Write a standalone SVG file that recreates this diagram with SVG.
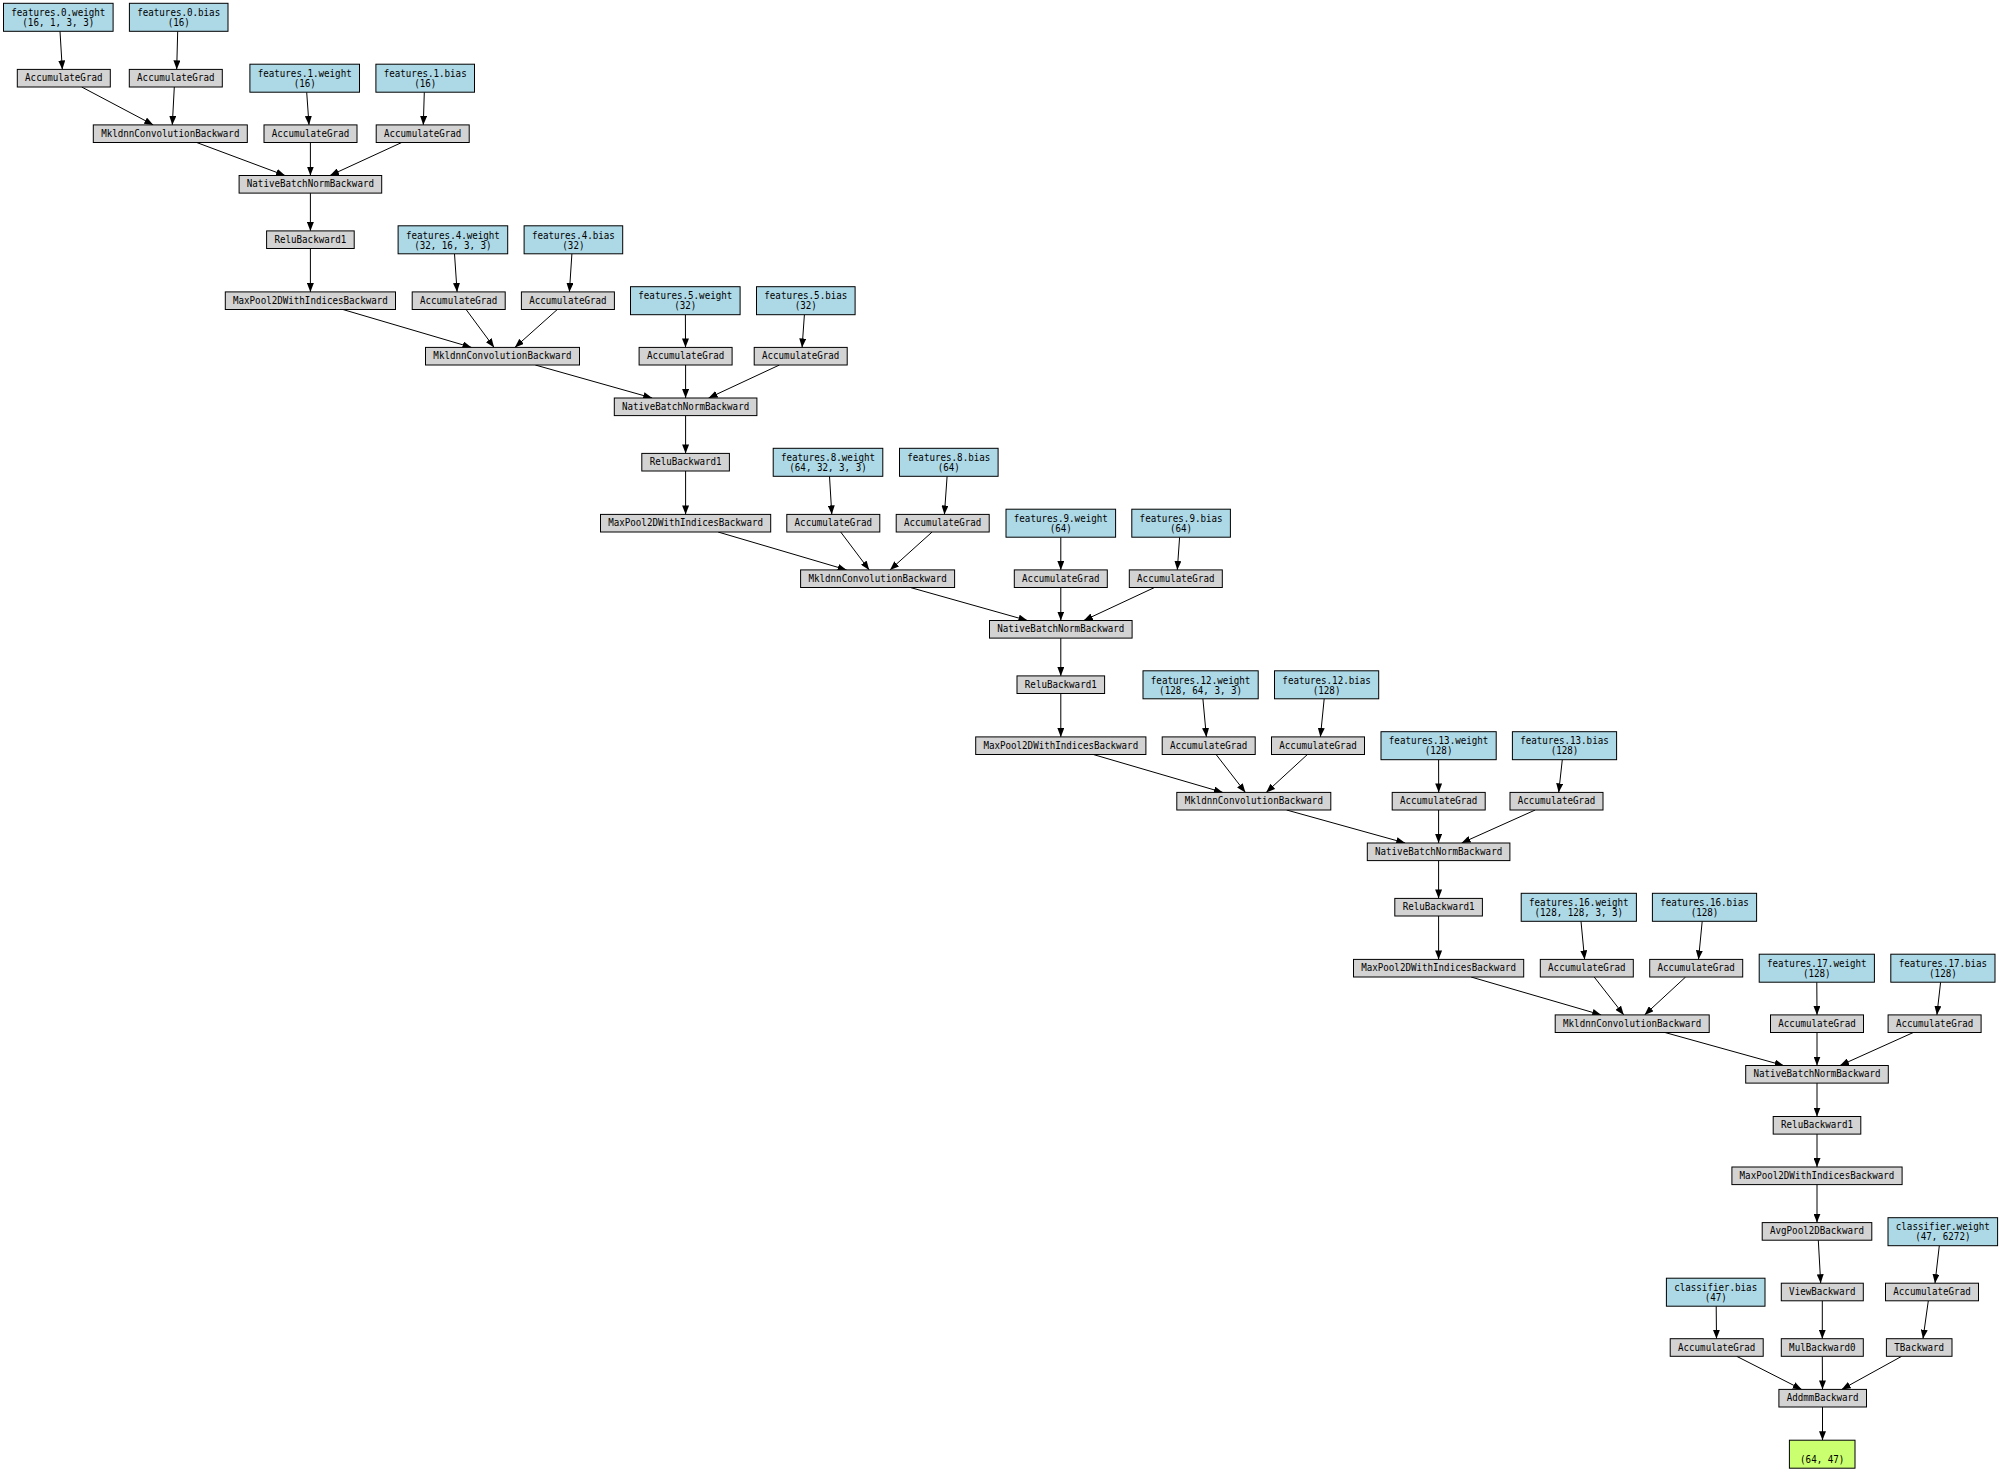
<svg xmlns="http://www.w3.org/2000/svg" width="2001" height="1472" viewBox="0 0 2001 1472">
<style>
rect{stroke:#000;stroke-width:1}
.g{fill:#d3d3d3}
.b{fill:#add8e6}
.o{fill:#caff70}
text{font-family:"DejaVu Sans Mono","Liberation Mono",monospace;font-size:10.5px;text-anchor:middle;fill:#000}
#edges line{stroke:#000;stroke-width:1;marker-end:url(#ah)}
</style>
<defs>
<marker id="ah" markerUnits="userSpaceOnUse" markerWidth="9" markerHeight="7" refX="9" refY="3.5" orient="auto">
<path d="M0,0 L9,3.5 L0,7 z" fill="#000"/>
</marker>
</defs>
<rect x="0" y="0" width="2001" height="1472" fill="#fff" style="stroke:none"/>
<g id="edges">
<line x1="60" y1="31.3" x2="62.3" y2="69.4"/>
<line x1="177.7" y1="31.3" x2="176.7" y2="69.4"/>
<line x1="306.7" y1="92.2" x2="309" y2="124.9"/>
<line x1="424.3" y1="92.2" x2="423.3" y2="124.9"/>
<line x1="81.7" y1="87" x2="153.3" y2="124.9"/>
<line x1="174.3" y1="87" x2="172.3" y2="124.9"/>
<line x1="196.7" y1="142.5" x2="285" y2="175.5"/>
<line x1="310.4" y1="142.5" x2="310.4" y2="175.5"/>
<line x1="401.7" y1="142.5" x2="330" y2="175.5"/>
<line x1="310.4" y1="193.1" x2="310.4" y2="230.9"/>
<line x1="310.4" y1="248.5" x2="310.4" y2="291.9"/>

<line x1="454.5" y1="253.8" x2="457.1" y2="291.9"/>
<line x1="571.9" y1="253.8" x2="569.4" y2="291.9"/>
<line x1="685.4" y1="314.7" x2="685.5" y2="347.4"/>
<line x1="804.4" y1="314.7" x2="802.1" y2="347.4"/>
<line x1="342.9" y1="309.5" x2="471.5" y2="347.4"/>
<line x1="466.1" y1="309.5" x2="494.1" y2="347.4"/>
<line x1="557.3" y1="309.5" x2="514.9" y2="347.4"/>
<line x1="535.3" y1="365" x2="652.2" y2="398"/>
<line x1="685.6" y1="365" x2="685.6" y2="398"/>
<line x1="779.4" y1="365" x2="708.6" y2="398"/>
<line x1="685.6" y1="415.6" x2="685.6" y2="453.4"/>
<line x1="685.6" y1="471" x2="685.6" y2="514.4"/>

<line x1="829.5" y1="476.3" x2="831.8" y2="514.4"/>
<line x1="947.1" y1="476.3" x2="944.4" y2="514.4"/>
<line x1="1060.8" y1="537.2" x2="1060.8" y2="569.9"/>
<line x1="1179.6" y1="537.2" x2="1177.3" y2="569.9"/>
<line x1="718.1" y1="532" x2="846.6" y2="569.9"/>
<line x1="840.7" y1="532" x2="869.2" y2="569.9"/>
<line x1="932.1" y1="532" x2="890" y2="569.9"/>
<line x1="910.4" y1="587.5" x2="1027.4" y2="620.5"/>
<line x1="1060.8" y1="587.5" x2="1060.8" y2="620.5"/>
<line x1="1154.5" y1="587.5" x2="1083.8" y2="620.5"/>
<line x1="1060.8" y1="638.1" x2="1060.8" y2="675.9"/>
<line x1="1060.8" y1="693.5" x2="1060.8" y2="736.9"/>

<line x1="1202.9" y1="698.8" x2="1206.4" y2="736.9"/>
<line x1="1324.2" y1="698.8" x2="1320.4" y2="736.9"/>
<line x1="1438.6" y1="759.7" x2="1438.7" y2="792.4"/>
<line x1="1562.3" y1="759.7" x2="1558.7" y2="792.4"/>
<line x1="1093.3" y1="754.5" x2="1222.8" y2="792.4"/>
<line x1="1216.1" y1="754.5" x2="1245.4" y2="792.4"/>
<line x1="1307.4" y1="754.5" x2="1266.2" y2="792.4"/>
<line x1="1286.6" y1="810" x2="1405.2" y2="843"/>
<line x1="1438.6" y1="810" x2="1438.6" y2="843"/>
<line x1="1535.2" y1="810" x2="1461.6" y2="843"/>
<line x1="1438.6" y1="860.6" x2="1438.6" y2="898.4"/>
<line x1="1438.6" y1="916" x2="1438.6" y2="959.4"/>

<line x1="1581" y1="921.3" x2="1584.6" y2="959.4"/>
<line x1="1702.2" y1="921.3" x2="1698.5" y2="959.4"/>
<line x1="1816.8" y1="982.2" x2="1817" y2="1014.9"/>
<line x1="1940.6" y1="982.2" x2="1936.9" y2="1014.9"/>
<line x1="1471.1" y1="977" x2="1601.2" y2="1014.9"/>
<line x1="1594.2" y1="977" x2="1623.8" y2="1014.9"/>
<line x1="1685.6" y1="977" x2="1644.6" y2="1014.9"/>
<line x1="1665" y1="1032.5" x2="1783.6" y2="1065.5"/>
<line x1="1817" y1="1032.5" x2="1817" y2="1065.5"/>
<line x1="1913.3" y1="1032.5" x2="1840" y2="1065.5"/>
<line x1="1817" y1="1083.1" x2="1817" y2="1116.5"/>
<line x1="1817" y1="1134.1" x2="1817" y2="1167"/>

<line x1="1817" y1="1184.6" x2="1817" y2="1222.6"/>
<line x1="1818.3" y1="1240.2" x2="1820.7" y2="1283.2"/>
<line x1="1939.3" y1="1245.7" x2="1935" y2="1283.2"/>
<line x1="1716.2" y1="1306.2" x2="1716.5" y2="1338.7"/>
<line x1="1822.3" y1="1300.8" x2="1822.3" y2="1338.7"/>
<line x1="1928.3" y1="1300.8" x2="1923" y2="1338.7"/>
<line x1="1736.7" y1="1356.3" x2="1801.7" y2="1389.4"/>
<line x1="1822.3" y1="1356.3" x2="1822.5" y2="1389.4"/>
<line x1="1901.7" y1="1356.3" x2="1841.7" y2="1389.4"/>
<line x1="1822.5" y1="1407" x2="1822.5" y2="1440.2"/>
</g>

<!-- Block 1 -->
<g id="f0w"><rect class="b" x="3.5" y="3.3" width="109.6" height="28"/><text x="58.3" y="16" textLength="94" lengthAdjust="spacingAndGlyphs">features.0.weight</text><text x="58.3" y="26" textLength="71.9" lengthAdjust="spacingAndGlyphs">(16, 1, 3, 3)</text></g>
<g id="f0b"><rect class="b" x="129.4" y="3.3" width="98.6" height="28"/><text x="178.7" y="16" textLength="83" lengthAdjust="spacingAndGlyphs">features.0.bias</text><text x="178.7" y="26" textLength="22.1" lengthAdjust="spacingAndGlyphs">(16)</text></g>
<g id="ag0w"><rect class="g" x="17.3" y="69.4" width="93" height="17.6"/><text x="63.8" y="81.2" textLength="77.4" lengthAdjust="spacingAndGlyphs">AccumulateGrad</text></g>
<g id="ag0b"><rect class="g" x="129.3" y="69.4" width="93" height="17.6"/><text x="175.8" y="81.2" textLength="77.4" lengthAdjust="spacingAndGlyphs">AccumulateGrad</text></g>
<g id="f1w"><rect class="b" x="249.9" y="64.2" width="109.6" height="28"/><text x="304.7" y="76.9" textLength="94" lengthAdjust="spacingAndGlyphs">features.1.weight</text><text x="304.7" y="86.9" textLength="22.1" lengthAdjust="spacingAndGlyphs">(16)</text></g>
<g id="f1b"><rect class="b" x="375.9" y="64.2" width="98.6" height="28"/><text x="425.2" y="76.9" textLength="83" lengthAdjust="spacingAndGlyphs">features.1.bias</text><text x="425.2" y="86.9" textLength="22.1" lengthAdjust="spacingAndGlyphs">(16)</text></g>
<g id="mk1"><rect class="g" x="93.3" y="124.9" width="154" height="17.6"/><text x="170.3" y="136.7" textLength="138.3" lengthAdjust="spacingAndGlyphs">MkldnnConvolutionBackward</text></g>
<g id="ag1w"><rect class="g" x="264" y="124.9" width="93" height="17.6"/><text x="310.5" y="136.7" textLength="77.4" lengthAdjust="spacingAndGlyphs">AccumulateGrad</text></g>
<g id="ag1b"><rect class="g" x="376.2" y="124.9" width="93" height="17.6"/><text x="422.7" y="136.7" textLength="77.4" lengthAdjust="spacingAndGlyphs">AccumulateGrad</text></g>
<g id="nbn1"><rect class="g" x="239.1" y="175.5" width="142.6" height="17.6"/><text x="310.4" y="187.3" textLength="127.2" lengthAdjust="spacingAndGlyphs">NativeBatchNormBackward</text></g>
<g id="relu1"><rect class="g" x="266.6" y="230.9" width="87.6" height="17.6"/><text x="310.4" y="242.7" textLength="71.9" lengthAdjust="spacingAndGlyphs">ReluBackward1</text></g>
<g id="mp1"><rect class="g" x="225.3" y="291.9" width="170.2" height="17.6"/><text x="310.4" y="303.7" textLength="154.8" lengthAdjust="spacingAndGlyphs">MaxPool2DWithIndicesBackward</text></g>

<!-- Block 2 -->
<g id="f4w"><rect class="b" x="398.1" y="225.8" width="109.6" height="28"/><text x="452.9" y="238.5" textLength="94" lengthAdjust="spacingAndGlyphs">features.4.weight</text><text x="452.9" y="248.5" textLength="77.4" lengthAdjust="spacingAndGlyphs">(32, 16, 3, 3)</text></g>
<g id="f4b"><rect class="b" x="524.1" y="225.8" width="98.6" height="28"/><text x="573.4" y="238.5" textLength="83" lengthAdjust="spacingAndGlyphs">features.4.bias</text><text x="573.4" y="248.5" textLength="22.1" lengthAdjust="spacingAndGlyphs">(32)</text></g>
<g id="ag4w"><rect class="g" x="412.2" y="291.9" width="93" height="17.6"/><text x="458.7" y="303.7" textLength="77.4" lengthAdjust="spacingAndGlyphs">AccumulateGrad</text></g>
<g id="ag4b"><rect class="g" x="521.4" y="291.9" width="93" height="17.6"/><text x="567.9" y="303.7" textLength="77.4" lengthAdjust="spacingAndGlyphs">AccumulateGrad</text></g>
<g id="f5w"><rect class="b" x="630.5" y="286.7" width="109.6" height="28"/><text x="685.3" y="299.4" textLength="94" lengthAdjust="spacingAndGlyphs">features.5.weight</text><text x="685.3" y="309.4" textLength="22.1" lengthAdjust="spacingAndGlyphs">(32)</text></g>
<g id="f5b"><rect class="b" x="756.5" y="286.7" width="98.6" height="28"/><text x="805.8" y="299.4" textLength="83" lengthAdjust="spacingAndGlyphs">features.5.bias</text><text x="805.8" y="309.4" textLength="22.1" lengthAdjust="spacingAndGlyphs">(32)</text></g>
<g id="mk2"><rect class="g" x="425.5" y="347.4" width="154" height="17.6"/><text x="502.5" y="359.2" textLength="138.3" lengthAdjust="spacingAndGlyphs">MkldnnConvolutionBackward</text></g>
<g id="ag5w"><rect class="g" x="639.1" y="347.4" width="93" height="17.6"/><text x="685.6" y="359.2" textLength="77.4" lengthAdjust="spacingAndGlyphs">AccumulateGrad</text></g>
<g id="ag5b"><rect class="g" x="754.2" y="347.4" width="93" height="17.6"/><text x="800.7" y="359.2" textLength="77.4" lengthAdjust="spacingAndGlyphs">AccumulateGrad</text></g>
<g id="nbn2"><rect class="g" x="614.3" y="398" width="142.6" height="17.6"/><text x="685.6" y="409.8" textLength="127.2" lengthAdjust="spacingAndGlyphs">NativeBatchNormBackward</text></g>
<g id="relu2"><rect class="g" x="641.8" y="453.4" width="87.6" height="17.6"/><text x="685.6" y="465.2" textLength="71.9" lengthAdjust="spacingAndGlyphs">ReluBackward1</text></g>
<g id="mp2"><rect class="g" x="600.5" y="514.4" width="170.2" height="17.6"/><text x="685.6" y="526.2" textLength="154.8" lengthAdjust="spacingAndGlyphs">MaxPool2DWithIndicesBackward</text></g>

<!-- Block 3 -->
<g id="f8w"><rect class="b" x="773.2" y="448.3" width="109.6" height="28"/><text x="828" y="461" textLength="94" lengthAdjust="spacingAndGlyphs">features.8.weight</text><text x="828" y="471" textLength="77.4" lengthAdjust="spacingAndGlyphs">(64, 32, 3, 3)</text></g>
<g id="f8b"><rect class="b" x="899.5" y="448.3" width="98.6" height="28"/><text x="948.8" y="461" textLength="83" lengthAdjust="spacingAndGlyphs">features.8.bias</text><text x="948.8" y="471" textLength="22.1" lengthAdjust="spacingAndGlyphs">(64)</text></g>
<g id="ag8w"><rect class="g" x="786.8" y="514.4" width="93" height="17.6"/><text x="833.3" y="526.2" textLength="77.4" lengthAdjust="spacingAndGlyphs">AccumulateGrad</text></g>
<g id="ag8b"><rect class="g" x="896.2" y="514.4" width="93" height="17.6"/><text x="942.7" y="526.2" textLength="77.4" lengthAdjust="spacingAndGlyphs">AccumulateGrad</text></g>
<g id="f9w"><rect class="b" x="1006" y="509.2" width="109.6" height="28"/><text x="1060.8" y="521.9" textLength="94" lengthAdjust="spacingAndGlyphs">features.9.weight</text><text x="1060.8" y="531.9" textLength="22.1" lengthAdjust="spacingAndGlyphs">(64)</text></g>
<g id="f9b"><rect class="b" x="1131.8" y="509.2" width="98.6" height="28"/><text x="1181.1" y="521.9" textLength="83" lengthAdjust="spacingAndGlyphs">features.9.bias</text><text x="1181.1" y="531.9" textLength="22.1" lengthAdjust="spacingAndGlyphs">(64)</text></g>
<g id="mk3"><rect class="g" x="800.6" y="569.9" width="154" height="17.6"/><text x="877.6" y="581.7" textLength="138.3" lengthAdjust="spacingAndGlyphs">MkldnnConvolutionBackward</text></g>
<g id="ag9w"><rect class="g" x="1014.3" y="569.9" width="93" height="17.6"/><text x="1060.8" y="581.7" textLength="77.4" lengthAdjust="spacingAndGlyphs">AccumulateGrad</text></g>
<g id="ag9b"><rect class="g" x="1129.3" y="569.9" width="93" height="17.6"/><text x="1175.8" y="581.7" textLength="77.4" lengthAdjust="spacingAndGlyphs">AccumulateGrad</text></g>
<g id="nbn3"><rect class="g" x="989.5" y="620.5" width="142.6" height="17.6"/><text x="1060.8" y="632.3" textLength="127.2" lengthAdjust="spacingAndGlyphs">NativeBatchNormBackward</text></g>
<g id="relu3"><rect class="g" x="1017" y="675.9" width="87.6" height="17.6"/><text x="1060.8" y="687.7" textLength="71.9" lengthAdjust="spacingAndGlyphs">ReluBackward1</text></g>
<g id="mp3"><rect class="g" x="975.7" y="736.9" width="170.2" height="17.6"/><text x="1060.8" y="748.7" textLength="154.8" lengthAdjust="spacingAndGlyphs">MaxPool2DWithIndicesBackward</text></g>

<!-- Block 4 -->
<g id="f12w"><rect class="b" x="1143" y="670.8" width="115.2" height="28"/><text x="1200.6" y="683.5" textLength="99.5" lengthAdjust="spacingAndGlyphs">features.12.weight</text><text x="1200.6" y="693.5" textLength="83" lengthAdjust="spacingAndGlyphs">(128, 64, 3, 3)</text></g>
<g id="f12b"><rect class="b" x="1274.5" y="670.8" width="104.2" height="28"/><text x="1326.6" y="683.5" textLength="88.5" lengthAdjust="spacingAndGlyphs">features.12.bias</text><text x="1326.6" y="693.5" textLength="27.7" lengthAdjust="spacingAndGlyphs">(128)</text></g>
<g id="ag12w"><rect class="g" x="1162.2" y="736.9" width="93" height="17.6"/><text x="1208.7" y="748.7" textLength="77.4" lengthAdjust="spacingAndGlyphs">AccumulateGrad</text></g>
<g id="ag12b"><rect class="g" x="1271.5" y="736.9" width="93" height="17.6"/><text x="1318" y="748.7" textLength="77.4" lengthAdjust="spacingAndGlyphs">AccumulateGrad</text></g>
<g id="f13w"><rect class="b" x="1381" y="731.7" width="115.2" height="28"/><text x="1438.6" y="744.4" textLength="99.5" lengthAdjust="spacingAndGlyphs">features.13.weight</text><text x="1438.6" y="754.4" textLength="27.7" lengthAdjust="spacingAndGlyphs">(128)</text></g>
<g id="f13b"><rect class="b" x="1512.4" y="731.7" width="104.2" height="28"/><text x="1564.5" y="744.4" textLength="88.5" lengthAdjust="spacingAndGlyphs">features.13.bias</text><text x="1564.5" y="754.4" textLength="27.7" lengthAdjust="spacingAndGlyphs">(128)</text></g>
<g id="mk4"><rect class="g" x="1176.8" y="792.4" width="154" height="17.6"/><text x="1253.8" y="804.2" textLength="138.3" lengthAdjust="spacingAndGlyphs">MkldnnConvolutionBackward</text></g>
<g id="ag13w"><rect class="g" x="1392.2" y="792.4" width="93" height="17.6"/><text x="1438.7" y="804.2" textLength="77.4" lengthAdjust="spacingAndGlyphs">AccumulateGrad</text></g>
<g id="ag13b"><rect class="g" x="1510" y="792.4" width="93" height="17.6"/><text x="1556.5" y="804.2" textLength="77.4" lengthAdjust="spacingAndGlyphs">AccumulateGrad</text></g>
<g id="nbn4"><rect class="g" x="1367.3" y="843" width="142.6" height="17.6"/><text x="1438.6" y="854.8" textLength="127.2" lengthAdjust="spacingAndGlyphs">NativeBatchNormBackward</text></g>
<g id="relu4"><rect class="g" x="1394.8" y="898.4" width="87.6" height="17.6"/><text x="1438.6" y="910.2" textLength="71.9" lengthAdjust="spacingAndGlyphs">ReluBackward1</text></g>
<g id="mp4"><rect class="g" x="1353.5" y="959.4" width="170.2" height="17.6"/><text x="1438.6" y="971.2" textLength="154.8" lengthAdjust="spacingAndGlyphs">MaxPool2DWithIndicesBackward</text></g>

<!-- Block 5 -->
<g id="f16w"><rect class="b" x="1521.2" y="893.3" width="115.2" height="28"/><text x="1578.8" y="906" textLength="99.5" lengthAdjust="spacingAndGlyphs">features.16.weight</text><text x="1578.8" y="916" textLength="88.5" lengthAdjust="spacingAndGlyphs">(128, 128, 3, 3)</text></g>
<g id="f16b"><rect class="b" x="1652.4" y="893.3" width="104.2" height="28"/><text x="1704.5" y="906" textLength="88.5" lengthAdjust="spacingAndGlyphs">features.16.bias</text><text x="1704.5" y="916" textLength="27.7" lengthAdjust="spacingAndGlyphs">(128)</text></g>
<g id="ag16w"><rect class="g" x="1540.3" y="959.4" width="93" height="17.6"/><text x="1586.8" y="971.2" textLength="77.4" lengthAdjust="spacingAndGlyphs">AccumulateGrad</text></g>
<g id="ag16b"><rect class="g" x="1649.7" y="959.4" width="93" height="17.6"/><text x="1696.2" y="971.2" textLength="77.4" lengthAdjust="spacingAndGlyphs">AccumulateGrad</text></g>
<g id="f17w"><rect class="b" x="1759.2" y="954.2" width="115.2" height="28"/><text x="1816.8" y="966.9" textLength="99.5" lengthAdjust="spacingAndGlyphs">features.17.weight</text><text x="1816.8" y="976.9" textLength="27.7" lengthAdjust="spacingAndGlyphs">(128)</text></g>
<g id="f17b"><rect class="b" x="1890.8" y="954.2" width="104.2" height="28"/><text x="1942.9" y="966.9" textLength="88.5" lengthAdjust="spacingAndGlyphs">features.17.bias</text><text x="1942.9" y="976.9" textLength="27.7" lengthAdjust="spacingAndGlyphs">(128)</text></g>
<g id="mk5"><rect class="g" x="1555.2" y="1014.9" width="154" height="17.6"/><text x="1632.2" y="1026.7" textLength="138.3" lengthAdjust="spacingAndGlyphs">MkldnnConvolutionBackward</text></g>
<g id="ag17w"><rect class="g" x="1770.5" y="1014.9" width="93" height="17.6"/><text x="1817" y="1026.7" textLength="77.4" lengthAdjust="spacingAndGlyphs">AccumulateGrad</text></g>
<g id="ag17b"><rect class="g" x="1888.1" y="1014.9" width="93" height="17.6"/><text x="1934.6" y="1026.7" textLength="77.4" lengthAdjust="spacingAndGlyphs">AccumulateGrad</text></g>
<g id="nbn5"><rect class="g" x="1745.7" y="1065.5" width="142.6" height="17.6"/><text x="1817" y="1077.3" textLength="127.2" lengthAdjust="spacingAndGlyphs">NativeBatchNormBackward</text></g>
<g id="relu5"><rect class="g" x="1773.2" y="1116.5" width="87.6" height="17.6"/><text x="1817" y="1128.3" textLength="71.9" lengthAdjust="spacingAndGlyphs">ReluBackward1</text></g>
<g id="mp5"><rect class="g" x="1731.9" y="1167" width="170.2" height="17.6"/><text x="1817" y="1178.8" textLength="154.8" lengthAdjust="spacingAndGlyphs">MaxPool2DWithIndicesBackward</text></g>

<!-- Classifier -->
<g id="avg"><rect class="g" x="1762.2" y="1222.6" width="109.6" height="17.6"/><text x="1817" y="1234.4" textLength="94" lengthAdjust="spacingAndGlyphs">AvgPool2DBackward</text></g>
<g id="clsw"><rect class="b" x="1888" y="1217.7" width="109.6" height="28"/><text x="1942.8" y="1230.4" textLength="94" lengthAdjust="spacingAndGlyphs">classifier.weight</text><text x="1942.8" y="1240.4" textLength="55.3" lengthAdjust="spacingAndGlyphs">(47, 6272)</text></g>
<g id="clsb"><rect class="b" x="1666.4" y="1278.2" width="98.6" height="28"/><text x="1715.7" y="1290.9" textLength="83" lengthAdjust="spacingAndGlyphs">classifier.bias</text><text x="1715.7" y="1300.9" textLength="22.1" lengthAdjust="spacingAndGlyphs">(47)</text></g>
<g id="view"><rect class="g" x="1781.3" y="1283.2" width="82" height="17.6"/><text x="1822.3" y="1295" textLength="66.4" lengthAdjust="spacingAndGlyphs">ViewBackward</text></g>
<g id="agclsw"><rect class="g" x="1885.5" y="1283.2" width="93" height="17.6"/><text x="1932" y="1295" textLength="77.4" lengthAdjust="spacingAndGlyphs">AccumulateGrad</text></g>
<g id="agclsb"><rect class="g" x="1670.2" y="1338.7" width="93" height="17.6"/><text x="1716.7" y="1350.5" textLength="77.4" lengthAdjust="spacingAndGlyphs">AccumulateGrad</text></g>
<g id="mul"><rect class="g" x="1781.3" y="1338.7" width="82" height="17.6"/><text x="1822.3" y="1350.5" textLength="66.4" lengthAdjust="spacingAndGlyphs">MulBackward0</text></g>
<g id="tb"><rect class="g" x="1886.4" y="1338.7" width="65.6" height="17.6"/><text x="1919.2" y="1350.5" textLength="49.8" lengthAdjust="spacingAndGlyphs">TBackward</text></g>
<g id="addmm"><rect class="g" x="1778.9" y="1389.4" width="87.6" height="17.6"/><text x="1822.7" y="1401.2" textLength="71.9" lengthAdjust="spacingAndGlyphs">AddmmBackward</text></g>
<g id="out"><rect class="o" x="1789.4" y="1440.2" width="65.6" height="28"/><text x="1822.2" y="1462.7" textLength="44.2" lengthAdjust="spacingAndGlyphs">(64, 47)</text></g>
</svg>
